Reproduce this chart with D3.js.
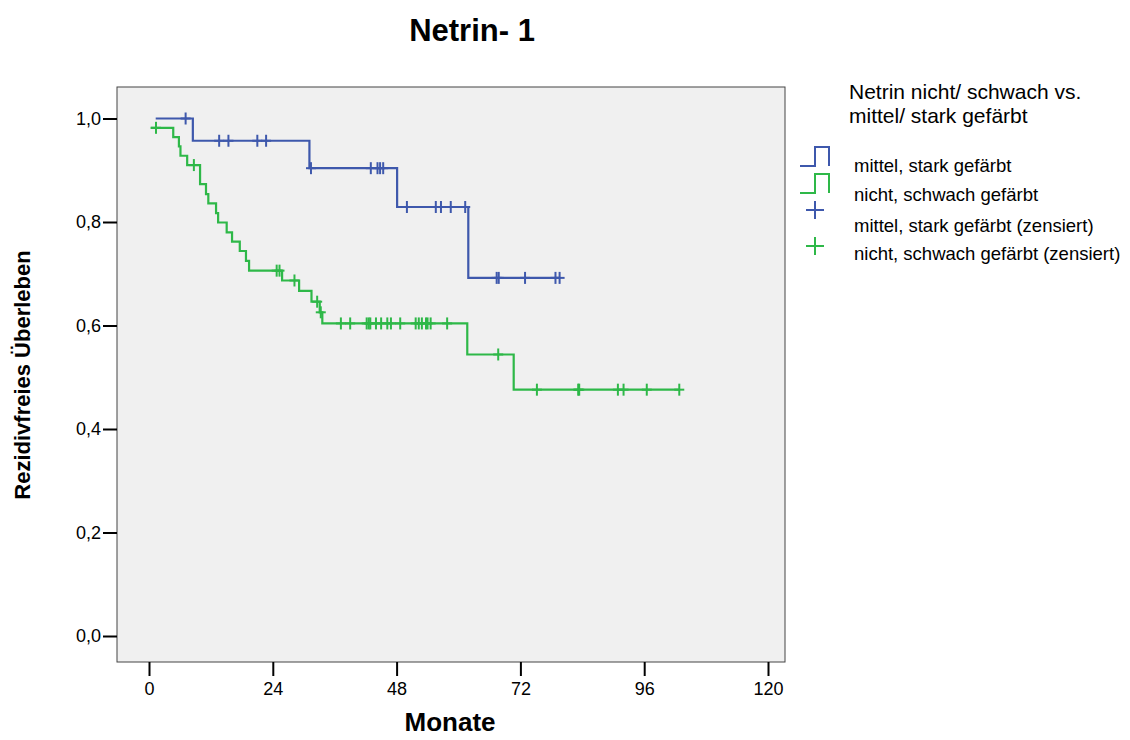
<!DOCTYPE html>
<html><head><meta charset="utf-8">
<script src="https://cdn.jsdelivr.net/npm/d3@7"></script>
<style>body{margin:0;background:#fff}text{font-family:"Liberation Sans",Arial,sans-serif}</style></head>
<body><svg id="c" width="1130" height="740"></svg>
<script>
// ---- data ----
const xTicks = [0, 24, 48, 72, 96, 120];
const yTicks = [0, 0.2, 0.4, 0.6, 0.8, 1.0];
const seriesNames = ["mittel, stark gefärbt", "nicht, schwach gefärbt"];
const censorNames = ["mittel, stark gefärbt (zensiert)", "nicht, schwach gefärbt (zensiert)"];
const blueTimes = [1.3, 8.5, 31.1, 48.1, 61.9];
const blueSurv  = [1.0, 0.957, 0.904, 0.829, 0.692];
const blueEnd = 79.6;
const blueCens = [7.1, 13.6, 15.4, 21.0, 22.7, 31.4, 43.0, 44.3, 44.8, 45.4, 50.0, 55.6, 56.6, 58.5, 61.3, 67.4, 67.8, 72.9, 78.8, 79.6];
const greenTimes = [0.3, 4.7, 5.8, 6.1, 7.4, 9.9, 11.05, 11.5, 13.0, 13.4, 15.06, 16.1, 17.6, 18.8, 19.4, 25.8, 29.1, 31.5, 33.1, 33.6, 61.7, 70.7];
const greenSurv  = [0.982, 0.964, 0.946, 0.928, 0.910, 0.873, 0.854, 0.836, 0.817, 0.799, 0.780, 0.762, 0.744, 0.725, 0.706, 0.687, 0.667, 0.646, 0.6255, 0.604, 0.544, 0.476];
const greenEnd = 102.8;
const greenCens = [1.36, 8.7, 24.75, 25.3, 28.2, 32.6, 33.3, 37.2, 39.0, 42.2, 42.6, 42.9, 44.0, 45.0, 46.2, 46.9, 48.7, 51.7, 52.3, 52.9, 53.7, 54.0, 54.6, 57.8, 67.7, 75.2, 83.2, 83.4, 90.9, 92.0, 96.5, 102.8];

const BLUE = "#3e58ac", GREEN = "#2eb848";
const svg = d3.select("#c");
const frame = {l: 117, r: 785, t: 87, b: 662};
const x = d3.scaleLinear().domain([0, 120]).range([149, 768]);
const y = d3.scaleLinear().domain([0, 1]).range([636, 118.5]);

svg.append("rect").attr("x", frame.l).attr("y", frame.t)
  .attr("width", frame.r - frame.l).attr("height", frame.b - frame.t)
  .attr("fill", "#f0f0f0").attr("stroke", "#444").attr("stroke-width", 1);

const fmt = d => d.toFixed(1).replace(".", ",");
const gx = svg.append("g").attr("transform", `translate(0,${frame.b})`)
  .call(d3.axisBottom(x).tickValues(xTicks).tickSize(14).tickPadding(6));
const gy = svg.append("g").attr("transform", `translate(${frame.l},0)`)
  .call(d3.axisLeft(y).tickValues(yTicks).tickFormat(fmt).tickSize(14).tickPadding(2));
[gx, gy].forEach(g => {
  g.select(".domain").remove();
  g.selectAll(".tick line").attr("stroke", "#000").attr("stroke-width", 2);
  g.selectAll(".tick text").attr("fill", "#000").style("font-size", "18px")
   .style("font-family", '"Liberation Sans",Arial,sans-serif');
});

function stepVal(times, surv, t) {
  let v = surv[0];
  for (let i = 0; i < times.length; i++) if (times[i] <= t) v = surv[i];
  return v;
}
const line = d3.line().x(d => x(d[0])).y(d => y(d[1])).curve(d3.curveStepAfter);
function drawSeries(times, surv, end, cens, color) {
  const pts = times.map((t, i) => [t, surv[i]]);
  pts.push([end, surv[surv.length - 1]]);
  svg.append("path").attr("d", line(pts)).attr("fill", "none")
    .attr("stroke", color).attr("stroke-width", 2.2);
  const g = svg.append("g").attr("stroke", color).attr("stroke-width", 2);
  cens.forEach(t => {
    const cx = x(t), cy = y(stepVal(times, surv, t));
    g.append("line").attr("x1", cx - 5).attr("x2", cx + 5).attr("y1", cy).attr("y2", cy);
    g.append("line").attr("x1", cx).attr("x2", cx).attr("y1", cy - 6).attr("y2", cy + 6);
  });
}
drawSeries(greenTimes, greenSurv, greenEnd, greenCens, GREEN);
drawSeries(blueTimes, blueSurv, blueEnd, blueCens, BLUE);

// titles
svg.append("text").attr("x", 472).attr("y", 41).attr("text-anchor", "middle")
  .style("font-size", "31px").style("font-weight", "bold").text("Netrin- 1");
svg.append("text").attr("x", 450).attr("y", 731).attr("text-anchor", "middle")
  .style("font-size", "26px").style("font-weight", "bold").text("Monate");
svg.append("text").attr("transform", "translate(30,375) rotate(-90)").attr("text-anchor", "middle")
  .style("font-size", "22px").style("font-weight", "bold").text("Rezidivfreies Überleben");

// legend
const lg = svg.append("g");
lg.append("text").attr("x", 849).attr("y", 99).style("font-size", "21px").text("Netrin nicht/ schwach vs.");
lg.append("text").attr("x", 849).attr("y", 123).style("font-size", "21px").text("mittel/ stark gefärbt");
const colors = [BLUE, GREEN];
const iconY = [166, 193];
iconY.forEach((yy, i) => {
  lg.append("path").attr("d", `M800,${yy}H815V${yy - 19}H829V${yy}`)
    .attr("fill", "none").attr("stroke", colors[i]).attr("stroke-width", 2);
});
const plusY = [210, 246];
plusY.forEach((yy, i) => {
  lg.append("line").attr("x1", 806).attr("x2", 824).attr("y1", yy).attr("y2", yy).attr("stroke", colors[i]).attr("stroke-width", 2);
  lg.append("line").attr("x1", 815).attr("x2", 815).attr("y1", yy - 9).attr("y2", yy + 9).attr("stroke", colors[i]).attr("stroke-width", 2);
});
const labels = [seriesNames[0], seriesNames[1], censorNames[0], censorNames[1]];
const labY = [172, 201, 232, 260];
labels.forEach((t, i) => lg.append("text").attr("x", 854).attr("y", labY[i]).style("font-size", "18.5px").text(t));
</script></body></html>
